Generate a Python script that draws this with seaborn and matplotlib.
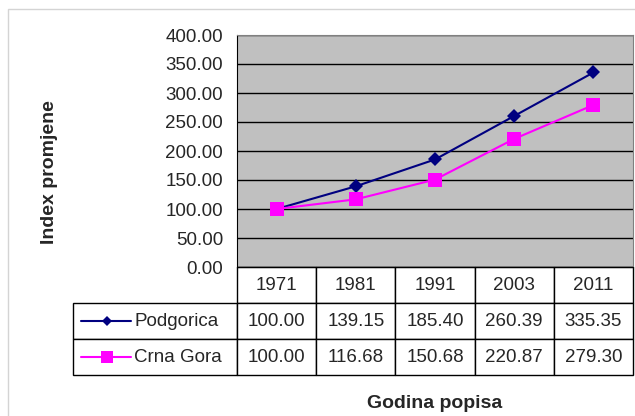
import pandas as pd
import matplotlib
matplotlib.use("Agg")
import matplotlib.pyplot as plt
import seaborn as sns
from matplotlib.lines import Line2D
from matplotlib.patches import Rectangle

# Podaci
godine = ["1971", "1981", "1991", "2003", "2011"]
podgorica = [100.00, 139.15, 185.40, 260.39, 335.35]
crna_gora = [100.00, 116.68, 150.68, 220.87, 279.30]
serije = ["Podgorica", "Crna Gora"]
boje = {"Podgorica": "#000080", "Crna Gora": "#FF00FF"}
markeri = {"Podgorica": "D", "Crna Gora": "s"}
vel_markera = {"Podgorica": 7, "Crna Gora": 10}

df = pd.DataFrame({
    "poz": list(range(len(godine))) * 2,
    "index": podgorica + crna_gora,
    "serija": ["Podgorica"] * len(godine) + ["Crna Gora"] * len(godine),
})

# Stil
sns.set_style("white")
plt.rcParams["font.family"] = ["Liberation Sans", "DejaVu Sans"]
fs = 13.5

W, H = 635, 416
fig = plt.figure(figsize=(W / 100, H / 100), dpi=100)

# okvir grafikona
fig.patches.append(Rectangle((8 / W, -0.1), 1.2, 1 - 9 / H + 0.1, transform=fig.transFigure,
                             fill=False, edgecolor="#d4d4d4", linewidth=1))

x0, x1, y0, y1 = 237, 633, 35, 267
ax = fig.add_axes([x0 / W, 1 - y1 / H, (x1 - x0) / W, (y1 - y0) / H])
ax.set_facecolor("#C0C0C0")

sns.lineplot(data=df, x="poz", y="index", hue="serija", style="serija",
             palette=boje, markers=markeri, dashes=False,
             linewidth=1.5, markeredgewidth=0, legend=False, ax=ax)
for ln, s in zip(ax.lines, serije):
    ln.set_markersize(vel_markera[s])

ax.set_xlim(-0.5, len(godine) - 0.5)
ax.set_ylim(0, 400)
ax.set_yticks(range(0, 401, 50))
ax.set_yticklabels([f"{v:.2f}" for v in range(0, 401, 50)])
ax.yaxis.grid(True, color="black", linewidth=1)
ax.set_axisbelow(True)
ax.tick_params(axis="y", direction="out", length=5, width=1, color="black", pad=5, labelsize=fs)
ax.xaxis.set_visible(False)
ax.set_xlabel("")
ax.set_ylabel("")
for s in ["top", "right"]:
    ax.spines[s].set_color("#808080")
ax.spines["left"].set_color("black")
ax.spines["bottom"].set_color("black")

# Tabela podataka
tl = 73
red_h = 36
cell_text = [[""] + godine]
cell_text.append(["Podgorica"] + [f"{v:.2f}" for v in podgorica])
cell_text.append(["Crna Gora"] + [f"{v:.2f}" for v in crna_gora])
col_w = [x0 - tl] + [(x1 - x0) / 5] * 5
tab = ax.table(cellText=cell_text, colWidths=[c / sum(col_w) for c in col_w],
               cellLoc="center",
               bbox=[(tl - x0) / (x1 - x0), -3 * red_h / (y1 - y0),
                     (x1 - tl) / (x1 - x0), 3 * red_h / (y1 - y0)])
tab.auto_set_font_size(False)
tab.set_fontsize(fs)
for (r, c), cell in tab.get_celld().items():
    cell.set_edgecolor("black")
    cell.set_linewidth(1)
    cell.set_facecolor("white")
    if r == 0 and c == 0:
        cell.visible_edges = ""
    if c == 0 and r > 0:
        cell._loc = "left"
        cell.PAD = (134 - tl) / (x0 - tl)
        cell.get_text().set_horizontalalignment("left")

# kljucevi legende u tabeli
for i, s in enumerate(serije):
    yc = 1 - (y1 + red_h * (i + 1.5)) / H
    fig.lines.append(Line2D([81 / W, 131 / W], [yc, yc], transform=fig.transFigure,
                            color=boje[s], linewidth=1.5, zorder=5))
    fig.lines.append(Line2D([107 / W], [yc], transform=fig.transFigure,
                            color=boje[s], marker=markeri[s], linestyle="none",
                            markersize=vel_markera[s] * 0.8,
                            markeredgewidth=0, zorder=6))

fig.text(50 / W, 1 - 172 / H, "Index promjene", rotation=90, ha="center", va="center",
         fontsize=14, fontweight="bold")
fig.text(435 / W, 1 - 404 / H, "Godina popisa", ha="center", va="center",
         fontsize=14, fontweight="bold")

fig.savefig("out.png", dpi=100)
